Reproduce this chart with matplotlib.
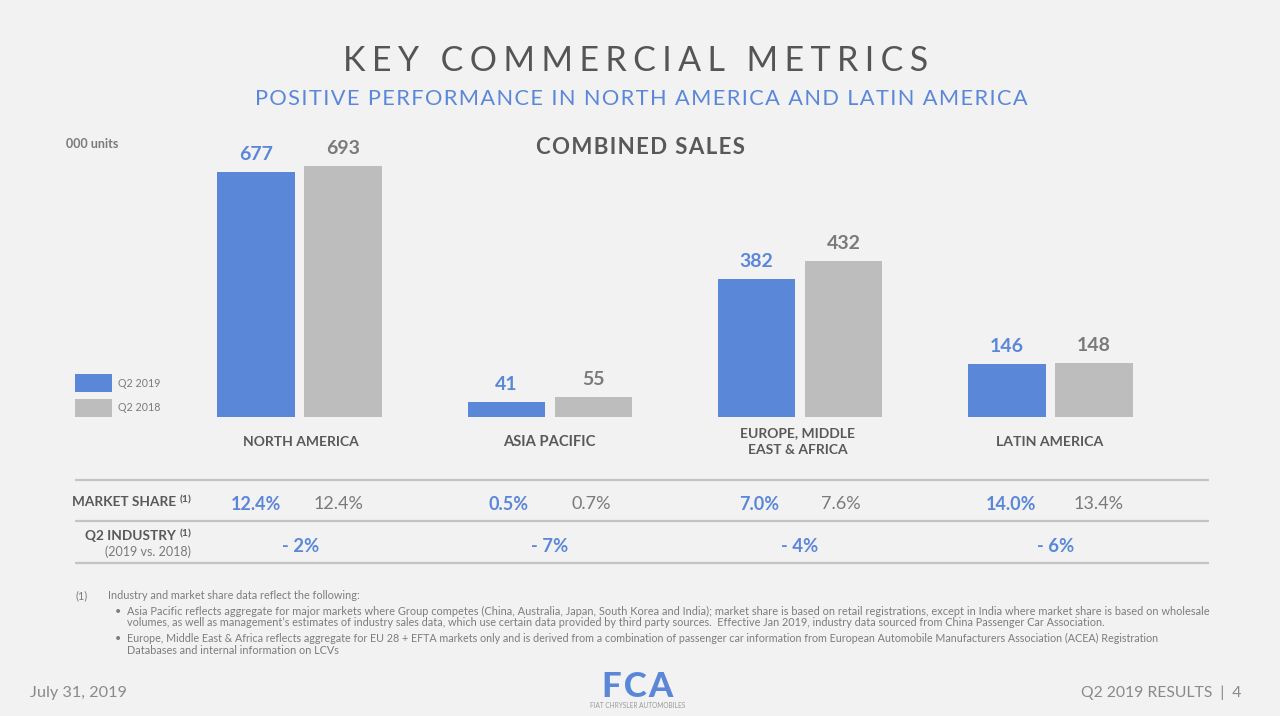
import matplotlib
matplotlib.use("Agg")
import matplotlib.pyplot as plt
import numpy as np

plt.rcParams['font.family'] = ['Lato', 'DejaVu Sans']

regions = ["NORTH AMERICA", "ASIA PACIFIC", "EUROPE, MIDDLE\nEAST & AFRICA", "LATIN AMERICA"]
q2_2019 = [677, 41, 382, 146]
q2_2018 = [693, 55, 432, 148]
share_2019 = ["12.4%", "0.5%", "7.0%", "14.0%"]
share_2018 = ["12.4%", "0.7%", "7.6%", "13.4%"]
industry = ["- 2%", "- 7%", "- 4%", "- 6%"]
series_names = ["Q2 2019", "Q2 2018"]

BG = "#f2f2f2"
BLUE = "#5b87d9"
GREY = "#bdbdbd"
DARK = "#595959"
MID = "#7a7a7a"
HS = "\u2009"

def tracked(s, gap=HS):
    return gap.join(s)

fig = plt.figure(figsize=(12.8, 7.16), dpi=100, facecolor=BG)

pg = fig.add_axes([0, 0, 1, 1], zorder=3)
pg.set_xlim(0, 1280); pg.set_ylim(716, 0); pg.axis("off"); pg.patch.set_alpha(0)

# bar axes: baseline at y=417 px, groups about 250.3 px apart
L, R, T, B = 200, 1150, 130, 417
SP = 250.33
ax = fig.add_axes([L/1280, 1-B/716, (R-L)/1280, (B-T)/716], zorder=2)
ax.patch.set_alpha(0)
x = np.arange(len(regions))
w = 77.5/SP
off = 43.5/SP
b1 = ax.bar(x-off, q2_2019, w, color=BLUE, label=series_names[0])
b2 = ax.bar(x+off, q2_2018, w, color=GREY, label=series_names[1])
ax.set_xlim((L-299.5)/SP, (R-299.5)/SP)
ax.set_ylim(0, (B-T)/245*677)
ax.axis("off")
ax.bar_label(b1, labels=[str(v) for v in q2_2019], padding=6.5, color=BLUE, fontsize=14, fontweight="bold")
ax.bar_label(b2, labels=[str(v) for v in q2_2018], padding=6.5, color=MID, fontsize=14, fontweight="bold")

pg.legend([b1, b2], series_names, loc="upper left", bbox_to_anchor=(73/1280, 1-372/716),
          bbox_transform=fig.transFigure, frameon=False, fontsize=7.7, labelcolor=MID,
          handlelength=3.45, handleheight=2.25, handletextpad=0.56, labelspacing=0.6,
          borderpad=0.2, borderaxespad=0)

pg.text(636, 61, tracked("KEY COMMERCIAL METRICS", "\u2009\u200a"), ha="center", va="center", fontsize=24.5, color="#555555")
pg.text(641, 99, tracked("POSITIVE PERFORMANCE IN NORTH AMERICA AND LATIN AMERICA", "\u200a"), ha="center", va="center", fontsize=15.65, color=BLUE)
pg.text(641, 148, tracked("COMBINED SALES", "\u200a"), ha="center", va="center", fontsize=16, fontweight="bold", color=DARK)
pg.text(66, 144, "000 units", ha="left", va="center", fontsize=9, fontweight="bold", color=MID)

label_x = [300.5, 549, 798, 1049.5]
label_y = [442, 442, 441.5, 442]
label_fs = [10, 10.6, 10, 10.2]
for cx, cy, lf, name in zip(label_x, label_y, label_fs, regions):
    pg.text(cx, cy, name, ha="center", va="center", fontsize=lf, fontweight="bold", color=DARK, linespacing=1.55)
for y in [480, 521, 563]:
    pg.plot([75, 1209], [y, y], color="#c4c4c4", lw=1.6, solid_capstyle="butt")

pg.text(176, 502, "MARKET SHARE", ha="right", va="center", fontsize=9.8, fontweight="bold", color=DARK)
pg.text(192, 500, "(1)", ha="right", va="center", fontsize=7.5, fontweight="bold", color=DARK)
pg.text(176, 536, "Q2 INDUSTRY", ha="right", va="center", fontsize=9.8, fontweight="bold", color=DARK)
pg.text(192, 534, "(1)", ha="right", va="center", fontsize=7.5, fontweight="bold", color=DARK)
pg.text(191, 552, "(2019 vs. 2018)", ha="right", va="center", fontsize=9, color=MID)

blue_x = [256, 509, 759, 1011.5]
grey_x = [338.5, 591, 841, 1098.5]
ind_x = [300.5, 549.5, 800, 1055.5]
for bx, gx, ix, a, b_, d in zip(blue_x, grey_x, ind_x, share_2019, share_2018, industry):
    pg.text(bx, 504, a, ha="center", va="center", fontsize=13, fontweight="bold", color=BLUE)
    pg.text(gx, 504, b_, ha="center", va="center", fontsize=13, color=MID)
    pg.text(ix, 546, d, ha="center", va="center", fontsize=13.3, fontweight="bold", color=BLUE)

fn = "#7d7d7d"
pg.text(76, 595.5, "(1)", ha="left", va="center", fontsize=7.8, color=fn)
pg.text(108, 595.5, "Industry and market share data reflect the following:", ha="left", va="center", fontsize=7.8, color=fn)
pg.text(115, 611.5, "\u2022", ha="left", va="center", fontsize=7.8, color=fn)
pg.text(127, 611.5, "Asia Pacific reflects aggregate for major markets where Group competes (China, Australia, Japan, South Korea and India); market share is based on retail registrations, except in India where market share is based on wholesale", ha="left", va="center", fontsize=7.9, color=fn)
pg.text(127, 623, "volumes, as well as management\u2019s estimates of industry sales data, which use certain data provided by third party sources.  Effective Jan 2019, industry data sourced from China Passenger Car Association.", ha="left", va="center", fontsize=7.83, color=fn)
pg.text(115, 638, "\u2022", ha="left", va="center", fontsize=7.8, color=fn)
pg.text(127, 638, "Europe, Middle East & Africa reflects aggregate for EU 28 + EFTA markets only and is derived from a combination of passenger car information from European Automobile Manufacturers Association (ACEA) Registration", ha="left", va="center", fontsize=7.73, color=fn)
pg.text(127, 650, "Databases and internal information on LCVs", ha="left", va="center", fontsize=7.83, color=fn)

pg.text(30, 693, "July 31, 2019", ha="left", va="center", fontsize=11.7, color="#8a8a8a")
pg.text(1241, 693, "Q2 2019 RESULTS  |  4", ha="right", va="center", fontsize=11.3, color="#8a8a8a")
pg.text(638, 687, tracked("FCA", "\u200a"), ha="center", va="center", fontsize=25, fontweight="black", color=BLUE)
pg.text(638, 706, "FIAT CHRYSLER AUTOMOBILES", ha="center", va="center", fontsize=4.7, color="#999999")

fig.savefig("out.png", dpi=100, facecolor=BG)
